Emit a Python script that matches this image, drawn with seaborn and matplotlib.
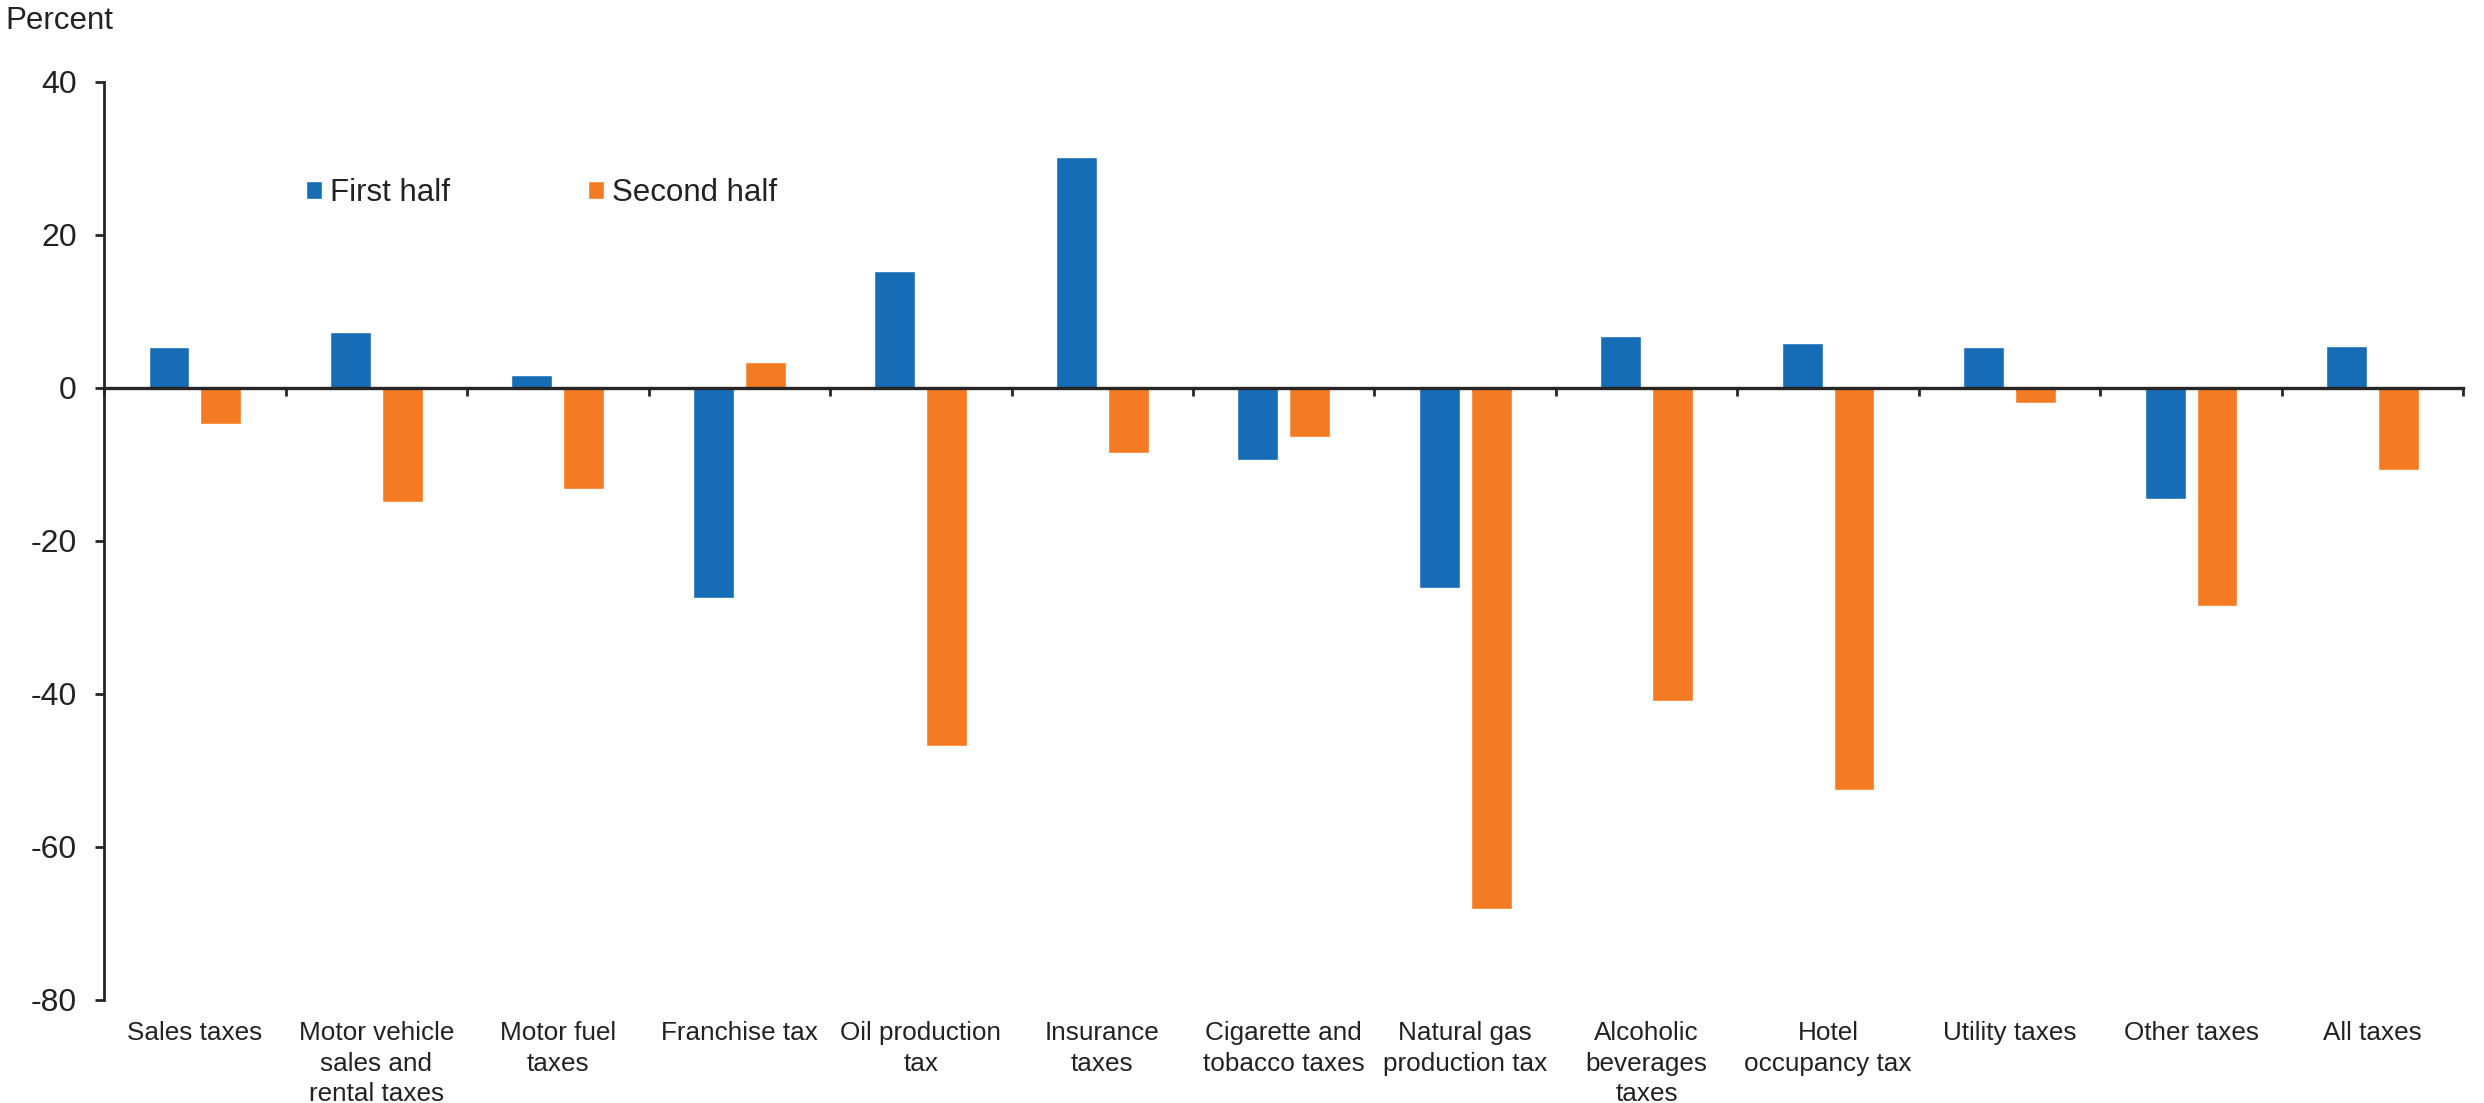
import matplotlib
matplotlib.use("Agg")
import matplotlib.pyplot as plt
import matplotlib.transforms as mtransforms
import pandas as pd
import seaborn as sns

# Categories of state tax revenue
categories = [
    "Sales taxes",
    "Motor vehicle\nsales and\nrental taxes",
    "Motor fuel\ntaxes",
    "Franchise tax",
    "Oil production\ntax",
    "Insurance\ntaxes",
    "Cigarette and\ntobacco taxes",
    "Natural gas\nproduction tax",
    "Alcoholic\nbeverages\ntaxes",
    "Hotel\noccupancy tax",
    "Utility taxes",
    "Other taxes",
    "All taxes",
]

# Percent change by half of the fiscal year
first_half = [5.3, 7.3, 1.7, -27.5, 15.3, 30.1, -9.5, -26.2, 6.7, 5.9, 5.3, -14.6, 5.5]
second_half = [-4.8, -15.0, -13.3, 3.4, -46.9, -8.6, -6.4, -68.2, -41.0, -52.6, -2.0, -28.5, -10.7]

series_names = ["First half", "Second half"]
palette = ["#176CB6", "#F47A23"]

y_ticks = [40, 20, 0, -20, -40, -60, -80]

df = pd.DataFrame({
    "category": categories * 2,
    "half": [series_names[0]] * len(categories) + [series_names[1]] * len(categories),
    "value": first_half + second_half,
})

sns.set_theme(style="white")
plt.rcParams["font.family"] = ["Liberation Sans", "DejaVu Sans"]
text_color = "#222222"
axis_color = "#262626"

fig = plt.figure(figsize=(24.84, 11.03), dpi=100)
ax = fig.add_axes([0.0419, 0.0937, 0.9498, 0.8322])

sns.barplot(
    data=df, x="category", y="value", hue="half",
    palette=palette, order=categories, hue_order=series_names,
    width=0.57, gap=0.21, errorbar=None, saturation=1.0, ax=ax,
)

n = len(categories)
ax.set_xlim(-0.5, n - 0.5)
ax.set_ylim(-80, 40)
ax.set_yticks(y_ticks)
ax.set_yticklabels([str(t) for t in y_ticks])
ax.set_xlabel("")
ax.set_ylabel("")

# Spines: left axis plus a zero line carrying the category separators
for side in ("top", "right"):
    ax.spines[side].set_visible(False)
ax.spines["left"].set_color(axis_color)
ax.spines["left"].set_linewidth(2.0)
ax.spines["bottom"].set_position(("data", 0))
ax.spines["bottom"].set_color(axis_color)
ax.spines["bottom"].set_linewidth(2.4)
ax.set_zorder(1)

ax.tick_params(axis="y", which="major", direction="out", length=6.5, width=2.0,
               color=axis_color, labelsize=23, labelcolor=text_color, pad=13, left=True)
ax.set_xticks(range(n))
ax.set_xticklabels([])
ax.tick_params(axis="x", which="major", length=0)
ax.set_xticks([i - 0.5 for i in range(n + 1)], minor=True)
ax.tick_params(axis="x", which="minor", direction="out", length=6, width=2.0,
               color=axis_color, bottom=True)

# Category labels placed beneath the plot area
trans = mtransforms.blended_transform_factory(ax.transData, ax.transAxes)
for i, label in enumerate(categories):
    ax.text(i, -0.023, label, transform=trans, ha="center", va="top",
            multialignment="center", fontsize=18.8, color=text_color, linespacing=1.36)

# Legend in two columns near the top-left
handles, labels = ax.get_legend_handles_labels()
if ax.get_legend() is not None:
    ax.get_legend().remove()
fig.legend(
    handles, labels, ncol=2, frameon=False, fontsize=22.5,
    loc="center left", bbox_to_anchor=(306 / 2484, 1 - 193 / 1103),
    bbox_transform=fig.transFigure, borderpad=0, borderaxespad=0,
    handlelength=0.52, handleheight=0.52, handletextpad=0.25, columnspacing=4.4,
    labelcolor=text_color,
)

fig.text(0.002, 1 - 29 / 1103, "Percent", ha="left", va="baseline",
         fontsize=22.5, color=text_color)

fig.savefig("out.png", dpi=100, facecolor="white")
